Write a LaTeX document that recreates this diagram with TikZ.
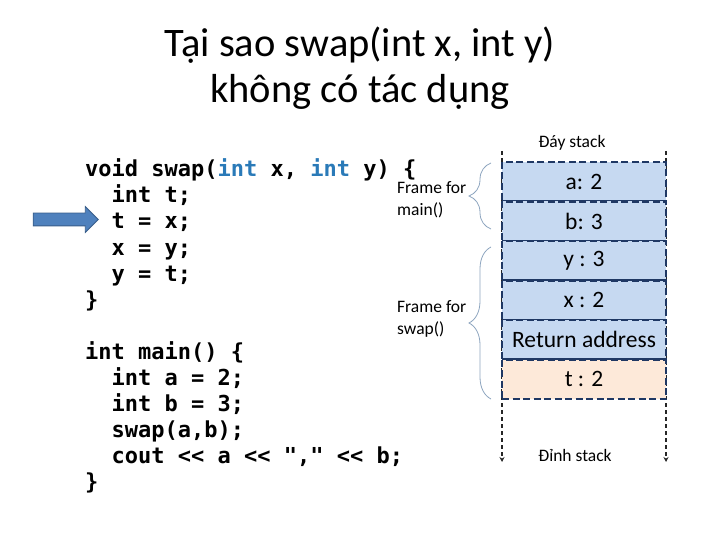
\documentclass[tikz,border=0pt]{standalone}
\usepackage{fontspec}
\setmainfont{Carlito}
\newfontfamily\codefont{DejaVu Sans Mono}[Ligatures=TeXOff]
\usepackage{xcolor}
\usepackage{tikz}
\usetikzlibrary{arrows.meta,shapes.arrows,decorations.pathreplacing}
\definecolor{cellblue}{HTML}{C6D9F1}
\definecolor{cellpeach}{HTML}{FDE9D9}
\definecolor{cellline}{HTML}{1F3864}
\definecolor{intblue}{HTML}{2A7AB8}
\definecolor{bracegray}{HTML}{8DA5BF}
\definecolor{ptrfill}{HTML}{4F81BD}
\definecolor{ptrline}{HTML}{385D8A}

\tikzset{
  code/.style={font=\codefont\fontsize{22}{26}\selectfont\bfseries, anchor=base west, inner sep=0pt},
  cell/.style={rectangle, draw=cellline, line width=2.4pt, dash pattern=on 7pt off 3.5pt,
    fill=cellblue, minimum width=164pt, minimum height=39.5pt, inner sep=0pt,
    font=\fontsize{23.5}{26}\selectfont},
  framelabel/.style={font=\fontsize{17.5}{22}\selectfont, align=left, anchor=west, inner sep=0pt},
  framebrace/.style={draw=bracegray, line width=0.8pt, decorate, decoration={brace, amplitude=22pt}},
  stackline/.style={draw=black!85, line width=1.6pt, dash pattern=on 4pt off 3pt}
}

\begin{document}
\begin{tikzpicture}[x=1pt, y=-1pt, >={Stealth[length=5pt, width=5pt]}]
\useasboundingbox (0,0) rectangle (720,540);

% title
\node[font=\fontsize{40.5}{48}\selectfont, anchor=base] (title1) at (360,57) {Tại sao swap(int x, int y)};
\node[font=\fontsize{40.5}{48}\selectfont, anchor=base] (title2) at (360,103) {không có tác dụng};

% code
\node[code] (s0) at (85,177) {void swap(\textcolor{intblue}{int} x, \textcolor{intblue}{int} y) \{};
\node[code] (s1) at (85,203) {~~int t;};
\node[code] (s2) at (85,229) {~~t = x;};
\node[code] (s3) at (85,255) {~~x = y;};
\node[code] (s4) at (85,281) {~~y = t;};
\node[code] (s5) at (85,307) {\}};
\node[code] (m0) at (85,359) {int main() \{};
\node[code] (m1) at (85,385) {~~int a = 2;};
\node[code] (m2) at (85,411) {~~int b = 3;};
\node[code] (m3) at (85,437) {~~swap(a,b);};
\node[code] (m4) at (85,463) {~~cout << a << "," << b;};
\node[code] (m5) at (85,489) {\}};

% current line
\node[single arrow, fill=ptrfill, draw=ptrline, line width=0.8pt, inner sep=6pt,
  minimum height=65pt, single arrow head extend=6.5pt] (ptr) at (62.5,219.5) {};

% stack
\coordinate (lt) at (502,151);
\coordinate (lb) at (502,462);
\coordinate (rt) at (666,151);
\coordinate (rb) at (666,462);
\draw[stackline, ->] (lt) -- (lb);
\draw[stackline, ->] (rt) -- (rb);

\node[font=\fontsize{17.5}{20}\selectfont] (bottom) at (572,143) {Đáy stack};
\node[font=\fontsize{17.5}{20}\selectfont] (top) at (575,455) {Đỉnh stack};

\node[cell] (ca) at (584,181.75) {a: 2};
\node[cell] (cb) at (584,221.25) {b: 3};
\node[cell] (cy) at (584,260.75) {y : 3};
\node[cell] (cx) at (584,300.25) {x : 2};
\node[cell] (cr) at (584,339.75) {Return address};
\node[cell, fill=cellpeach] (ct) at (584,379.25) {t : 2};

% frames
\draw[framebrace] (491,229) -- (491,163);
\draw[framebrace] (491,399) -- (491,247);
\node[framelabel] (fmain) at (397,200) {Frame for\\main()};
\node[framelabel] (fswap) at (397,319) {Frame for\\swap()};
\end{tikzpicture}
\end{document}
